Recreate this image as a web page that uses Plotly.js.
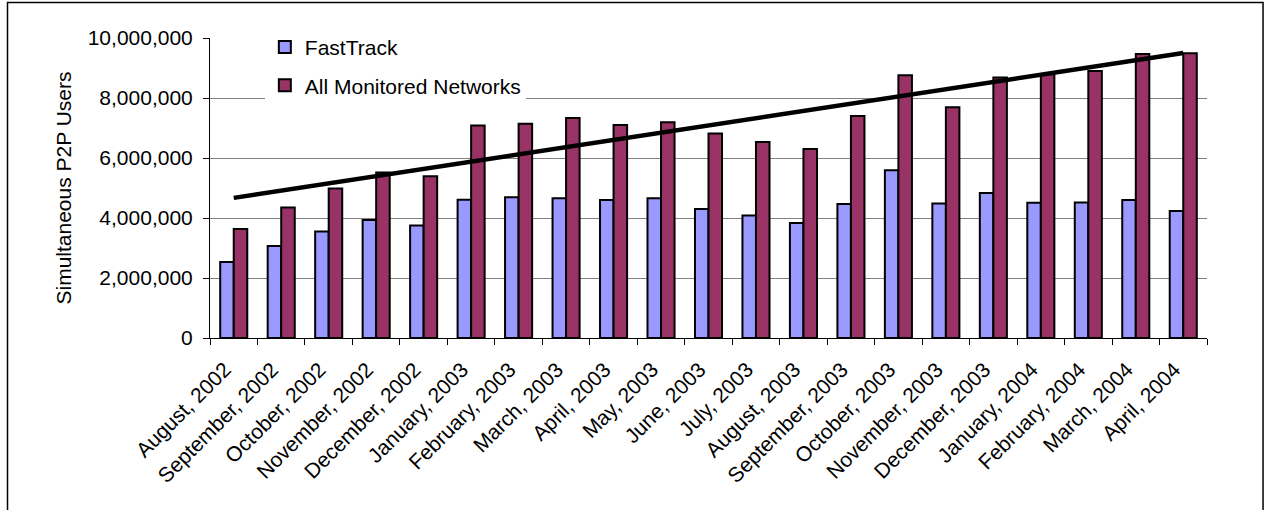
<!DOCTYPE html>
<html>
<head>
<meta charset="utf-8">
<script src="https://cdn.plot.ly/plotly-3.0.1.min.js"></script>
<style>
html,body{margin:0;padding:0;background:#fff;}
#chart{width:1265px;height:510px;}
</style>
</head>
<body>
<div id="chart"></div>
<script>
var months = ["August, 2002","September, 2002","October, 2002","November, 2002","December, 2002",
  "January, 2003","February, 2003","March, 2003","April, 2003","May, 2003","June, 2003","July, 2003",
  "August, 2003","September, 2003","October, 2003","November, 2003","December, 2003",
  "January, 2004","February, 2004","March, 2004","April, 2004"];
var fastTrack = [2530000,3070000,3550000,3930000,3750000,4610000,4690000,4660000,4600000,4660000,
  4300000,4080000,3830000,4470000,5590000,4480000,4830000,4510000,4520000,4600000,4230000];
var allNetworks = [3630000,4350000,4980000,5520000,5390000,7080000,7140000,7330000,7100000,7190000,
  6820000,6530000,6300000,7400000,8760000,7690000,8680000,8790000,8900000,9470000,9490000];
var trendX = ["August, 2002","April, 2004"];
var trendY = [4670000,9500000];

var FONT = "Liberation Sans, Arial, sans-serif";

var traces = [
  {type:"bar", name:"FastTrack", x:months, y:fastTrack,
   marker:{color:"#9999FF", line:{color:"#000000", width:2}}, legendgroup:"a"},
  {type:"bar", name:"All Monitored Networks", x:months, y:allNetworks,
   marker:{color:"#993366", line:{color:"#000000", width:2}}, legendgroup:"b"},
  {type:"scatter", mode:"lines", x:trendX, y:trendY, showlegend:false,
   line:{color:"#000000", width:4.5}}
];

var layout = {
  width:1265, height:510,
  margin:{l:210, r:58, t:38, b:172},
  paper_bgcolor:"#ffffff", plot_bgcolor:"#ffffff",
  font:{family:FONT, size:21, color:"#000000"},
  barmode:"group", bargap:0.43, bargroupgap:0,
  showlegend:true,
  legend:{x:0.055, y:1.037, xanchor:"left", yanchor:"top", bgcolor:"#ffffff",
    borderwidth:0, font:{family:FONT, size:21, color:"#000"}, traceorder:"grouped", tracegroupgap:8},
  xaxis:{type:"category", tickangle:-45, showgrid:false, showline:true, linecolor:"#000", linewidth:1,
    ticks:"outside", tickson:"boundaries", ticklen:6, tickcolor:"#000",
    ticklabelstandoff:10, ticklabelshift:-9,
    tickfont:{family:FONT, size:21, color:"#000"}, automargin:false, fixedrange:true},
  yaxis:{range:[0,10000000], dtick:2000000, tickformat:",d", showgrid:true, gridcolor:"#808080", gridwidth:1,
    showline:true, linecolor:"#000", linewidth:1, ticks:"outside", ticklen:6, tickcolor:"#000",
    ticklabelstandoff:6,
    zeroline:false, tickfont:{family:FONT, size:21, color:"#000"},
    title:{text:"Simultaneous P2P Users", font:{family:FONT, size:21, color:"#000"}, standoff:10},
    automargin:false, fixedrange:true},
  shapes:[{type:"rect", xref:"paper", yref:"paper", x0:-0.2031, x1:1.0562, y0:-0.607, y1:1.1183,
    line:{color:"#000", width:1.5}, fillcolor:"rgba(0,0,0,0)", layer:"above"}]
};

Plotly.newPlot("chart", traces, layout, {displayModeBar:false, staticPlot:true});
</script>
</body>
</html>
